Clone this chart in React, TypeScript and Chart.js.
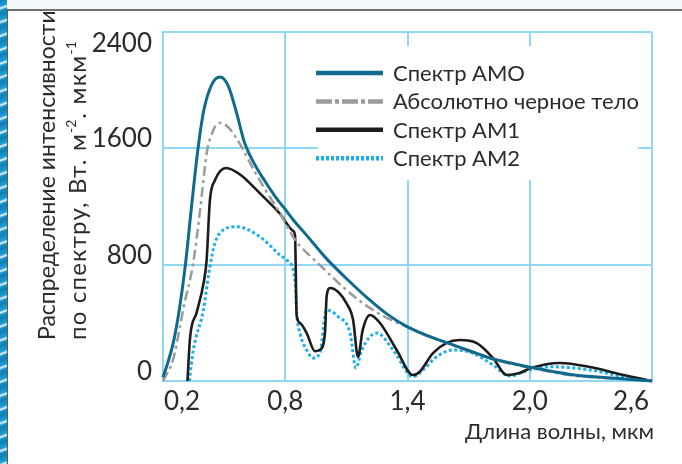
import React, { useEffect, useRef } from 'react';
import { Chart, registerables } from 'chart.js';

Chart.register(...registerables);

// ---------- data ----------
const xTicks = [0.2, 0.8, 1.4, 2.0, 2.6];
const xTickLabels = ['0,2', '0,8', '1,4', '2,0', '2,6'];
const yTicks = [0, 800, 1600, 2400];
const yTickLabels = ['0', '800', '1600', '2400'];

const seriesNames = ['Спектр АМО', 'Абсолютно черное тело', 'Спектр АМ1', 'Спектр АМ2'];
const xTitle = 'Длина волны, мкм';
const yTitleLine1 = 'Распределение интенсивности';
const yTitleLine2Parts: [string, boolean][] = [
  ['по спектру, Вт. м', false],
  ['-2', true],
  ['. мкм', false],
  ['-1', true],
];

const am0Wl = [0.2, 0.22, 0.25, 0.28, 0.31, 0.34, 0.372, 0.4, 0.44, 0.48, 0.52, 0.56, 0.6, 0.65, 0.7, 0.75, 0.8, 0.85, 0.9, 1.0, 1.1, 1.2, 1.3, 1.4, 1.5, 1.6, 1.7, 1.8, 1.9, 2.0, 2.2, 2.4, 2.6];
const am0Val = [25, 110, 260, 490, 800, 1200, 1600, 1860, 2040, 2090, 2030, 1850, 1640, 1490, 1375, 1270, 1180, 1090, 1010, 845, 705, 575, 460, 372, 310, 260, 210, 160, 125, 95, 45, 20, 0];

const bbWl = [0.2, 0.25, 0.283, 0.3, 0.347, 0.38, 0.416, 0.44, 0.46, 0.48, 0.52, 0.56, 0.59, 0.65, 0.7, 0.78, 0.848, 0.9, 0.985, 1.08, 1.18, 1.29, 1.4, 1.5, 1.594, 1.7, 1.8, 1.89, 2.0, 2.21, 2.4, 2.6];
const bbVal = [0, 150, 371, 500, 800, 1150, 1580, 1700, 1760, 1775, 1745, 1670, 1600, 1440, 1320, 1140, 970, 890, 777, 650, 536, 440, 371, 312, 261, 205, 160, 124, 92, 38, 18, 0];

const am1Wl = [0.32, 0.333, 0.365, 0.4, 0.414, 0.43, 0.455, 0.51, 0.578, 0.676, 0.774, 0.84, 0.848, 0.856, 0.872, 0.905, 0.946, 0.97, 0.995, 1.003, 1.02, 1.06, 1.1, 1.133, 1.157, 1.18, 1.216, 1.265, 1.347, 1.427, 1.46, 1.525, 1.59, 1.656, 1.74, 1.82, 1.887, 1.95, 2.005, 2.148, 2.296, 2.46, 2.6];
const am1Val = [0, 300, 470, 680, 830, 1240, 1380, 1465, 1420, 1290, 1150, 1030, 1000, 450, 400, 330, 205, 215, 330, 580, 640, 612, 536, 420, 165, 350, 454, 399, 213, 41, 64, 192, 261, 282, 261, 158, 41, 55, 89, 124, 96, 41, 0];

const am2Wl = [0.329, 0.349, 0.398, 0.43, 0.455, 0.48, 0.562, 0.676, 0.774, 0.807, 0.848, 0.856, 0.872, 0.905, 0.936, 0.97, 1.003, 1.06, 1.118, 1.147, 1.175, 1.25, 1.33, 1.427, 1.476, 1.543, 1.625, 1.72, 1.82, 1.903, 1.985, 2.1, 2.296, 2.46, 2.6];
const am2Val = [0, 213, 488, 786, 949, 1018, 1061, 992, 866, 832, 694, 467, 330, 213, 158, 192, 488, 442, 330, 89, 213, 330, 213, 30, 76, 167, 213, 192, 110, 34, 71, 98, 76, 30, 0];

// ---------- styling ----------
const FONT = 'Lato, "Open Sans", sans-serif';
const TEXT = '#2b2b2b';
const GRID = '#8fd7f3';

const toPoints = (xs: number[], ys: number[]) => xs.map((x, i) => ({ x, y: ys[i] }));

const fitSpacing = (ctx: any, text: string, target: number) => {
  ctx.letterSpacing = '0px';
  const w = ctx.measureText(text).width;
  return Math.max(0, (target - w) / text.length);
};

const decorPlugin = {
  id: 'decor',
  beforeDatasetsDraw(chart: any) {
    const ctx = chart.ctx;
    ctx.save();
    ctx.fillStyle = '#ffffff';
    ctx.fillRect(318, 46, 320, 134);
    ctx.restore();
  },
  afterDatasetsDraw(chart: any) {
    const ctx = chart.ctx;
    ctx.save();
    chart.data.datasets.forEach((ds: any, i: number) => {
      const base = 81 + i * 28.4;
      const ly = base - 8;
      ctx.beginPath();
      ctx.strokeStyle = ds.borderColor;
      ctx.lineWidth = 4.5;
      ctx.lineCap = 'butt';
      ctx.setLineDash(ds.legendDash || []);
      ctx.moveTo(316, ly);
      ctx.lineTo(383, ly);
      ctx.stroke();
      ctx.setLineDash([]);
      ctx.fillStyle = TEXT;
      ctx.font = `22px ${FONT}`;
      ctx.textAlign = 'left';
      ctx.textBaseline = 'alphabetic';
      ctx.fillText(ds.label, 393, base);
    });
    ctx.restore();
  },
  afterDraw(chart: any) {
    const ctx = chart.ctx;
    const area = chart.chartArea;
    const xs = chart.scales.x;
    const ys = chart.scales.y;
    ctx.save();
    ctx.fillStyle = TEXT;
    ctx.font = `26px ${FONT}`;
    ctx.textBaseline = 'alphabetic';
    // y tick labels
    ctx.textAlign = 'right';
    yTicks.forEach((v, i) => {
      const py = ys.getPixelForValue(v);
      const base = Math.max(py - 1, area.top + 20);
      ctx.fillText(yTickLabels[i], 152, base);
    });
    // x tick labels
    xTicks.forEach((v, i) => {
      const px = xs.getPixelForValue(v);
      if (i === 0) {
        ctx.textAlign = 'left';
        ctx.fillText(xTickLabels[i], area.left + 1, 410);
      } else if (i === xTicks.length - 1) {
        ctx.textAlign = 'right';
        ctx.fillText(xTickLabels[i], area.right - 3, 410);
      } else {
        ctx.textAlign = 'center';
        ctx.fillText(xTickLabels[i], px, 410);
      }
    });
    // x title
    ctx.font = `22px ${FONT}`;
    ctx.textAlign = 'right';
    ctx.fillText(xTitle, 654, 439);
    // y title line 1
    ctx.textAlign = 'left';
    ctx.save();
    ctx.translate(55, 340);
    ctx.rotate(-Math.PI / 2);
    ctx.font = `23px ${FONT}`;
    const ls1 = fitSpacing(ctx, yTitleLine1, 312);
    ctx.letterSpacing = `${ls1}px`;
    ctx.fillText(yTitleLine1, 0, 0);
    ctx.restore();
    // y title line 2 (with superscripts)
    ctx.save();
    ctx.translate(86, 340);
    ctx.rotate(-Math.PI / 2);
    const mainText = yTitleLine2Parts.filter((p) => !p[1]).map((p) => p[0]).join('');
    ctx.font = `14px ${FONT}`;
    ctx.letterSpacing = '0px';
    const supW = yTitleLine2Parts.filter((p) => p[1]).reduce((s, p) => s + ctx.measureText(p[0]).width + 1, 0);
    ctx.font = `24px ${FONT}`;
    const ls2 = Math.min(1.2, fitSpacing(ctx, mainText, 300 - supW));
    let cx = 0;
    yTitleLine2Parts.forEach(([t, sup]) => {
      ctx.font = sup ? `14px ${FONT}` : `24px ${FONT}`;
      ctx.letterSpacing = sup ? '0px' : `${ls2}px`;
      ctx.fillText(t, cx, sup ? -10 : 0);
      cx += ctx.measureText(t).width + (sup ? 1 : 0);
    });
    ctx.restore();
    ctx.restore();
  },
};

const App = () => {
  const ref = useRef<HTMLCanvasElement>(null);
  useEffect(() => {
    document.body.style.margin = '0';
    const common = { pointRadius: 0, fill: false, clip: false as any, cubicInterpolationMode: 'monotone' as const };
    const chart = new Chart(ref.current as HTMLCanvasElement, {
      type: 'line',
      data: {
        datasets: [
          { ...common, label: seriesNames[0], data: toPoints(am0Wl, am0Val), borderColor: '#0f6a8e', borderWidth: 3, legendDash: [] } as any,
          { ...common, label: seriesNames[1], data: toPoints(bbWl, bbVal), borderColor: '#9b9b9b', borderWidth: 2.5, borderDash: [10, 4, 3, 4], legendDash: [16, 3, 4, 3] } as any,
          { ...common, label: seriesNames[2], data: toPoints(am1Wl, am1Val), borderColor: '#1c1c1c', borderWidth: 2.6, legendDash: [] } as any,
          { ...common, label: seriesNames[3], data: toPoints(am2Wl, am2Val), borderColor: '#1cafe9', borderWidth: 3, borderDash: [3, 2.5], legendDash: [3, 2] } as any,
        ],
      },
      options: {
        animation: false,
        responsive: false,
        maintainAspectRatio: false,
        devicePixelRatio: 1,
        layout: { padding: { left: 163, top: 32, right: 30, bottom: 83 } },
        plugins: { legend: { display: false }, tooltip: { enabled: false } },
        scales: {
          x: {
            type: 'linear',
            min: 0.2,
            max: 2.6,
            afterBuildTicks: (axis: any) => { axis.ticks = xTicks.map((v) => ({ value: v })); },
            ticks: { display: false },
            grid: { color: GRID, lineWidth: 2, drawTicks: false },
            border: { display: true, color: GRID, width: 2 },
          },
          y: {
            type: 'linear',
            min: 0,
            max: 2400,
            afterBuildTicks: (axis: any) => { axis.ticks = yTicks.map((v) => ({ value: v })); },
            ticks: { display: false },
            grid: { color: GRID, lineWidth: 2, drawTicks: false },
            border: { display: true, color: GRID, width: 2 },
          },
        },
      },
      plugins: [decorPlugin],
    });
    return () => chart.destroy();
  }, []);

  return (
    <div style={{ position: 'fixed', left: 0, top: 0, width: 682, height: 464, background: '#ffffff', overflow: 'hidden' }}>
      <div style={{ position: 'absolute', left: 7, top: 0, width: 675, height: 9, background: '#f6f9fc' }} />
      <div style={{ position: 'absolute', left: 7, top: 9, width: 675, height: 2, background: '#707070' }} />
      <div style={{ position: 'absolute', left: 7, top: 9, width: 1, height: 455, background: '#5a5a5a' }} />
      <div
        style={{
          position: 'absolute', left: 0, top: 0, width: 7, height: 464,
          background: 'repeating-linear-gradient(160deg, #0f7fb6 0px, #1f9fd6 6px, #e6f5fc 8px, #1a93c9 10px, #0f7fb6 13px)',
        }}
      />
      <canvas ref={ref} width={682} height={464} style={{ position: 'absolute', left: 0, top: 0, width: 682, height: 464 }} />
    </div>
  );
};

export default App;
